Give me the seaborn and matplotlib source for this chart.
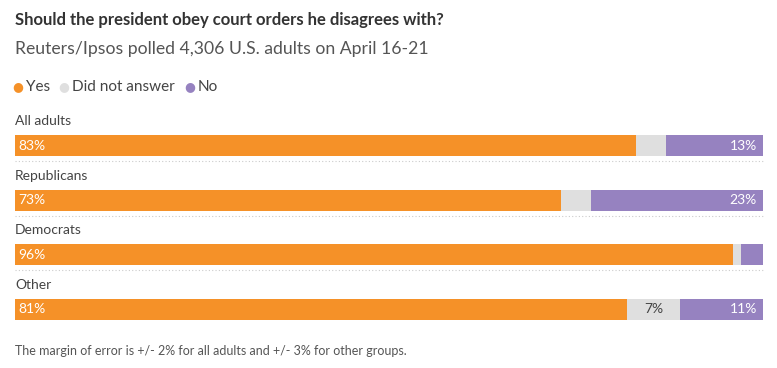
import numpy as np
import pandas as pd
import seaborn as sns
import matplotlib.pyplot as plt

groups = ["All adults", "Republicans", "Democrats", "Other"]
yes = [83, 73, 96, 81]
no_answer = [4, 4, 1, 7]
no = [13, 23, 3, 11]
yes_labels = ["83%", "73%", "96%", "81%"]
na_labels = ["", "", "", "7%"]
no_labels = ["13%", "23%", "", "11%"]

ORANGE = "#F59128"
GRAY = "#DFDFDF"
PURPLE = "#9682C0"

sns.set_theme(style="white")
plt.rcParams["font.family"] = ["Lato", "DejaVu Sans"]

W, H = 777, 368
fig = plt.figure(figsize=(W / 100, H / 100), dpi=100)

def fx(px):
    return px / W

def fy(py):
    return 1 - py / H

# axes placed so each bar is ~21px tall and rows are ~54.7px apart
left, right = 15, 763
top, bottom = 118.2, 336.8
ax = fig.add_axes([fx(left), fy(bottom), fx(right - left), (bottom - top) / H])

df = pd.DataFrame({"group": groups, "yes": yes, "na": no_answer, "no": no})
total = df["yes"] + df["na"] + df["no"]
# normalise so every row fills the full width
df["c_yes"] = df["yes"] / total * 100
df["c_na"] = (df["yes"] + df["na"]) / total * 100
df["c_all"] = 100.0

# stacked look: draw cumulative totals, longest first
bw = 0.384
for col, c in [("c_all", PURPLE), ("c_na", GRAY), ("c_yes", ORANGE)]:
    sns.barplot(data=df, y="group", x=col, color=c, width=bw, ax=ax,
                saturation=1, orient="h", order=groups, linewidth=0)

ax.set_xlim(0, 100)
ax.set_ylim(3.5, -0.5)
ax.axis("off")

fs = 10
for i, g in enumerate(groups):
    ax.text(0, i - 0.45, g, ha="left", va="center", fontsize=fs, color="#444444")
    ax.text(0.5, i, yes_labels[i], ha="left", va="center", fontsize=fs, color="white")
    if no_labels[i]:
        ax.text(99.2, i, no_labels[i], ha="right", va="center", fontsize=fs, color="white")
    if na_labels[i]:
        mid = (df["c_yes"][i] + df["c_na"][i]) / 2
        ax.text(mid, i, na_labels[i], ha="center", va="center", fontsize=fs, color="#444444")
    if i < len(groups) - 1:
        ax.plot([0, 100], [i + 0.283, i + 0.283], ls=(0, (1, 2)), lw=0.8, color="#CCCCCC",
                clip_on=False)

fig.text(fx(15), fy(20), "Should the president obey court orders he disagrees with?",
         fontsize=12, fontweight="bold", color="#333333", ha="left", va="center")
fig.text(fx(15), fy(49), "Reuters/Ipsos polled 4,306 U.S. adults on April 16-21",
         fontsize=12.7, color="#555555", ha="left", va="center")

legend_items = [("Yes", ORANGE, 18), ("Did not answer", GRAY, 64), ("No", PURPLE, 190)]
for name, col, x0 in legend_items:
    fig.text(fx(x0), fy(87), "\u25CF", fontsize=9, color=col, ha="center", va="center",
             family=["DejaVu Sans"])
    fig.text(fx(x0 + 8), fy(87), name, fontsize=11, color="#444444", ha="left", va="center")

fig.text(fx(15), fy(351), "The margin of error is +/- 2% for all adults and +/- 3% for other groups.",
         fontsize=9, color="#555555", ha="left", va="center")

fig.savefig("out.png", dpi=100, facecolor="white")
